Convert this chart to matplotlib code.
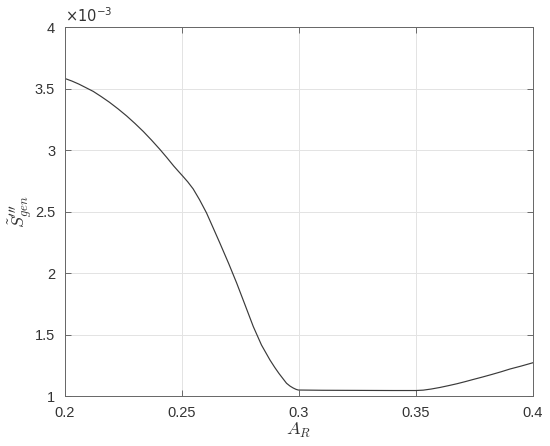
import numpy as np
import matplotlib.pyplot as plt

plt.rcParams['font.family'] = ['Liberation Sans', 'DejaVu Sans']
plt.rcParams['mathtext.fontset'] = 'cm'

# A_R values and generation (x 1e-3)
A_R = [0.200, 0.203, 0.206, 0.209, 0.2121, 0.2155, 0.219, 0.2227, 0.2264, 0.230,
       0.2335, 0.237, 0.2406, 0.2435, 0.2465, 0.2485, 0.2503, 0.2525, 0.2548, 0.2575,
       0.2605, 0.2633, 0.2662, 0.270, 0.2734, 0.277, 0.2805, 0.284, 0.2876, 0.2897,
       0.2915, 0.2932, 0.2947, 0.2962, 0.2975, 0.2987, 0.2997, 0.305, 0.310, 0.325,
       0.340, 0.350, 0.3531, 0.3565, 0.3603, 0.3640, 0.3675, 0.3710, 0.3745, 0.3785,
       0.3825, 0.3865, 0.3902, 0.3950, 0.400]
S_gen = [3.583, 3.562, 3.537, 3.508, 3.478, 3.436, 3.390, 3.336, 3.278, 3.216,
         3.152, 3.082, 3.006, 2.941, 2.871, 2.828, 2.790, 2.742, 2.685, 2.598,
         2.490, 2.370, 2.245, 2.077, 1.919, 1.740, 1.565, 1.415, 1.294, 1.232,
         1.183, 1.141, 1.104, 1.081, 1.066, 1.055, 1.049, 1.048, 1.047, 1.046,
         1.045, 1.045, 1.048, 1.057, 1.070, 1.085, 1.100, 1.117, 1.135, 1.155,
         1.176, 1.198, 1.220, 1.244, 1.271]

fig = plt.figure(figsize=(5.5, 4.46), dpi=100)
ax = fig.add_axes([0.118, 0.112, 0.851, 0.827])

ax.plot(A_R, S_gen, color='#3a3a3a', linewidth=0.85)

ax.set_xlim(0.2, 0.4)
ax.set_ylim(1, 4)
ax.set_xticks([0.2, 0.25, 0.3, 0.35, 0.4])
ax.set_xticklabels(['0.2', '0.25', '0.3', '0.35', '0.4'])
ax.set_yticks([1, 1.5, 2, 2.5, 3, 3.5, 4])
ax.set_yticklabels(['1', '1.5', '2', '2.5', '3', '3.5', '4'])

ax.grid(True, color='#e3e3e3', linewidth=0.7)
ax.set_axisbelow(True)
ax.tick_params(direction='in', length=4, labelsize=10.5, colors='#555555',
               labelcolor='#333333', width=0.6, top=True, right=True)
ax.tick_params(axis='x', pad=7)
ax.tick_params(axis='y', pad=7)
for s in ax.spines.values():
    s.set_color('#666666')
    s.set_linewidth(0.7)

ax.set_xlabel(r'$A_R$', fontsize=13, color='#333333', labelpad=1)
ax.set_ylabel(r"$\tilde{S}_{gen}^{\prime\prime\prime}$", fontsize=13, color='#333333', labelpad=1)
ax.text(0.0, 1.005, r'$\times 10^{-3}$', transform=ax.transAxes, fontsize=10.5,
        color='#333333', ha='left', va='bottom', math_fontfamily='dejavusans')

fig.savefig('out.png', dpi=100)
